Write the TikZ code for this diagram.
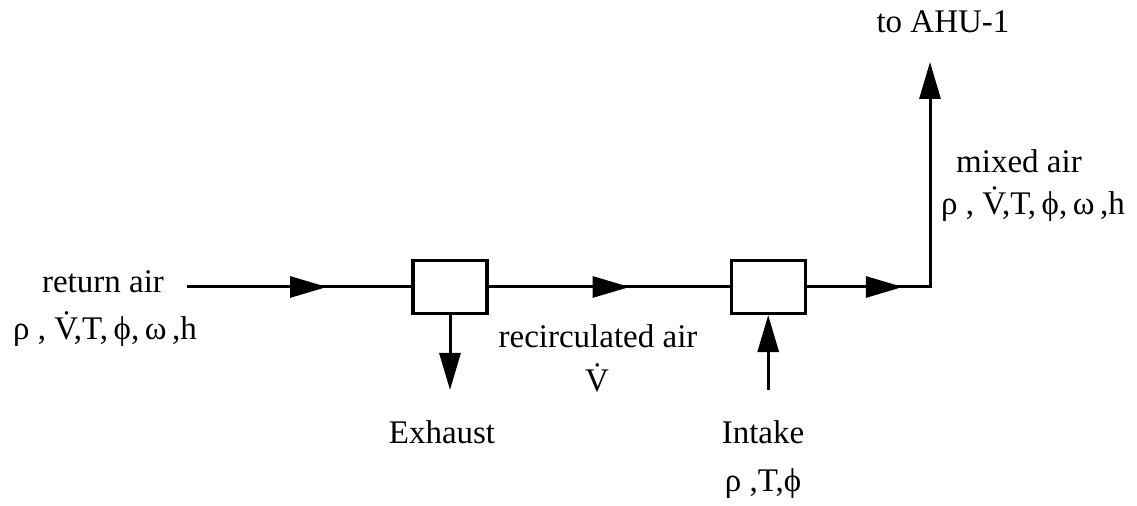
\documentclass[tikz,border=0pt]{standalone}
\usepackage{fontspec}
\setmainfont{Liberation Serif}
\usetikzlibrary{positioning,arrows.meta,decorations.markings}

\begin{document}
\begin{tikzpicture}[
  x=1pt,y=1pt,
  font=\fontsize{16.5}{19}\selectfont,
  >={Triangle[length=18.5pt,width=10.5pt]},
  damper/.style={draw,line width=1.6pt,minimum width=37pt,minimum height=26.5pt,inner sep=0pt},
  lbl/.style={inner sep=0pt,anchor=base},
  duct/.style={line width=1.5pt},
  flow/.style={duct,->},
  midarr/.style={duct,decoration={markings,mark=at position #1 with {\arrow{>}}},postaction={decorate}},
]
\useasboundingbox (0,0) rectangle (568.5,253);

% dampers
\node[damper] (dex) at (225,109.5) {};
\node[damper,right=120.5pt of dex] (din) {};

% free ends
\coordinate (ra)  at (93.5,109.5);
\coordinate (ex)  at (dex.south |- 0,58);
\coordinate (in)  at (din.south |- 0,58);
\coordinate (ahu) at (465,222);

% labels
\node[lbl] (ret)  at (51.5,106.5) {return air};
\node[lbl] (retq) at (52.5,83) {ρ , \.{V},T,\,ϕ,\,ω\,,h};
\node[lbl] (rec)  at (299,79) {recirculated air};
\node[lbl] (recq) at (298.5,57) {\.{V}};
\node[lbl] (exl)  at (221,31) {Exhaust};
\node[lbl] (inl)  at (381.5,31) {Intake};
\node[lbl] (inq)  at (381.5,7) {ρ ,T,ϕ};
\node[lbl] (ahl)  at (471.5,236.5) {to AHU-1};
\node[lbl] (mix)  at (509.5,166.5) {mixed air};
\node[lbl] (mixq) at (516.5,145.5) {ρ , \.{V},T,\,ϕ,\,ω\,,h};

% air paths
\draw[midarr=70pt] (ra) -- (dex.west);
\draw[midarr=70.5pt] (dex.east) -- (din.west);
\draw[midarr=48pt,->] (din.east) -| (ahu);
\draw[flow] (dex.south) -- (ex);
\draw[flow] (in) -- (din.south);
\end{tikzpicture}
\end{document}
